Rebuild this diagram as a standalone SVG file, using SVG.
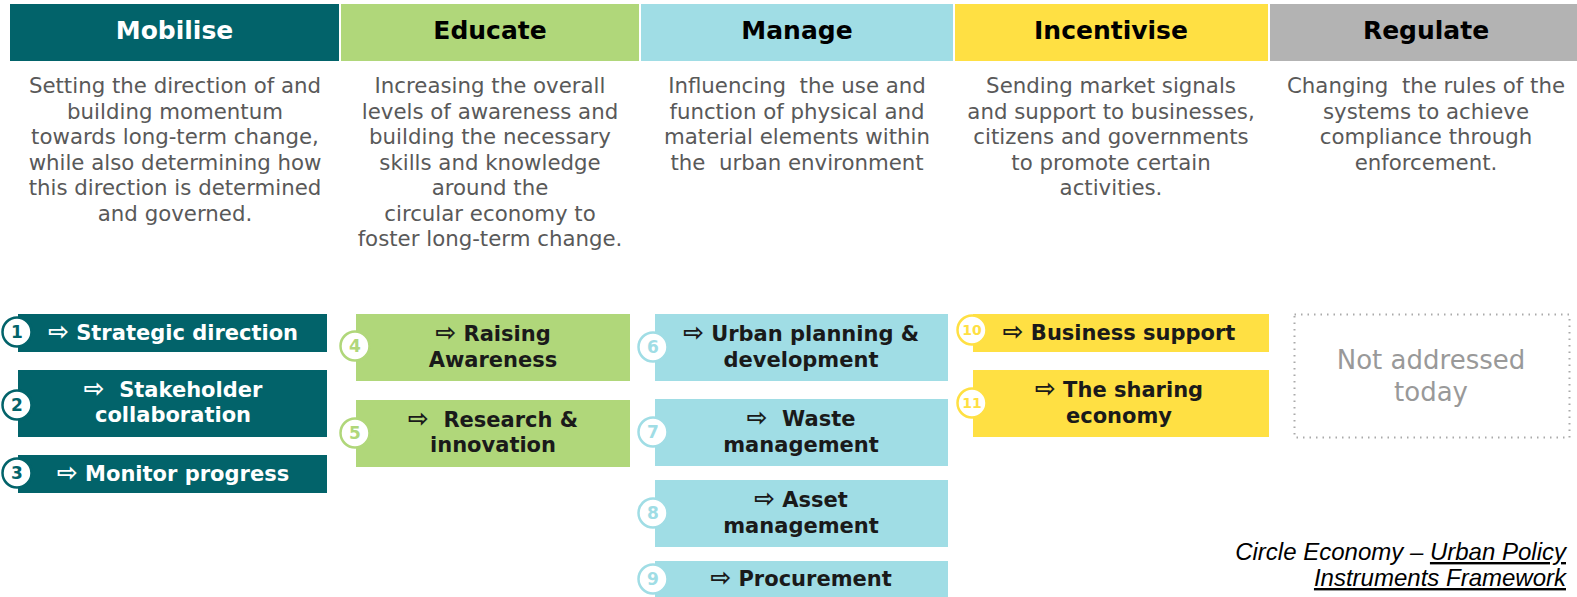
<svg xmlns="http://www.w3.org/2000/svg" width="1577" height="597" viewBox="0 0 1577 597">
<style>
.hd{font-family:"DejaVu Sans",Verdana,sans-serif;font-weight:bold;font-size:25px;text-anchor:middle}
.ds{font-family:"DejaVu Sans",sans-serif;font-size:21.3px;fill:#595959;text-anchor:middle}
.lb{font-family:"DejaVu Sans",Verdana,sans-serif;font-weight:bold;font-size:21px;fill:#1a1a1a;text-anchor:middle}
.lbw{fill:#ffffff}
.ar{font-size:25px}
.num{font-family:"DejaVu Sans",Verdana,sans-serif;font-weight:bold;font-size:17px;text-anchor:middle}
.c1{fill:#ffffff;stroke:#02636a;stroke-width:2.5}
.c2{fill:#ffffff;stroke:#b0d77a;stroke-width:2.5}
.c3{fill:#ffffff;stroke:#a0dde5;stroke-width:2.5}
.c4{fill:#ffffff;stroke:#ffe043;stroke-width:2.5}
.mob{fill:#02636a}.edu{fill:#b0d77a}.man{fill:#a0dde5}.inc{fill:#ffe043}.reg{fill:#b3b3b3}
.cit{font-family:"Liberation Sans Narrow","Liberation Sans",Arial,sans-serif;font-style:italic;font-size:24px;fill:#000;text-anchor:end}
</style>

<g id="headers">
<rect class="mob" x="10" y="4" width="329" height="57"/>
<text class="hd" x="174.5" y="39" fill="#ffffff">Mobilise</text>
<rect class="edu" x="341" y="4" width="298" height="57"/>
<text class="hd" x="490" y="39" fill="#000">Educate</text>
<rect class="man" x="641" y="4" width="312" height="57"/>
<text class="hd" x="797" y="39" fill="#000">Manage</text>
<rect class="inc" x="955" y="4" width="313" height="57"/>
<text class="hd" x="1111" y="39" fill="#000">Incentivise</text>
<rect class="reg" x="1270" y="4" width="307" height="57"/>
<text class="hd" x="1426" y="39" fill="#000">Regulate</text>
</g>

<g id="descriptions">
<text class="ds" x="175" y="93">Setting the direction of and</text>
<text class="ds" x="175" y="118.5">building momentum</text>
<text class="ds" x="175" y="144">towards long-term change,</text>
<text class="ds" x="175" y="169.5">while also determining how</text>
<text class="ds" x="175" y="195">this direction is determined</text>
<text class="ds" x="175" y="220.5">and governed.</text>

<text class="ds" x="490" y="93">Increasing the overall</text>
<text class="ds" x="490" y="118.5">levels of awareness and</text>
<text class="ds" x="490" y="144">building the necessary</text>
<text class="ds" x="490" y="169.5">skills and knowledge</text>
<text class="ds" x="490" y="195">around the</text>
<text class="ds" x="490" y="220.5">circular economy to</text>
<text class="ds" x="490" y="246">foster long-term change.</text>

<text class="ds" x="797" y="93" xml:space="preserve">Influencing  the use and</text>
<text class="ds" x="797" y="118.5">function of physical and</text>
<text class="ds" x="797" y="144">material elements within</text>
<text class="ds" x="797" y="169.5" xml:space="preserve">the  urban environment</text>

<text class="ds" x="1111" y="93">Sending market signals</text>
<text class="ds" x="1111" y="118.5">and support to businesses,</text>
<text class="ds" x="1111" y="144">citizens and governments</text>
<text class="ds" x="1111" y="169.5">to promote certain</text>
<text class="ds" x="1111" y="195">activities.</text>

<text class="ds" x="1426" y="93" xml:space="preserve">Changing  the rules of the</text>
<text class="ds" x="1426" y="118.5">systems to achieve</text>
<text class="ds" x="1426" y="144">compliance through</text>
<text class="ds" x="1426" y="169.5">enforcement.</text>
</g>

<g id="n1">
<rect class="mob" x="18" y="314" width="309" height="38"/>
<text class="lb lbw" x="173" y="340"><tspan class="ar">⇨</tspan> Strategic direction</text>
<circle class="c1" cx="17" cy="332" r="14.5"/>
<text class="num" x="17" y="338" fill="#02636a">1</text>
</g>
<g id="n2">
<rect class="mob" x="18" y="370" width="309" height="67"/>
<text class="lb lbw" x="173" y="397" xml:space="preserve"><tspan class="ar">⇨</tspan>  Stakeholder</text>
<text class="lb lbw" x="173" y="422">collaboration</text>
<circle class="c1" cx="17" cy="405" r="14.5"/>
<text class="num" x="17" y="411" fill="#02636a">2</text>
</g>
<g id="n3">
<rect class="mob" x="18" y="455" width="309" height="38"/>
<text class="lb lbw" x="173" y="481"><tspan class="ar">⇨</tspan> Monitor progress</text>
<circle class="c1" cx="17" cy="473" r="14.5"/>
<text class="num" x="17" y="479" fill="#02636a">3</text>
</g>

<g id="n4">
<rect class="edu" x="356" y="314" width="274" height="67"/>
<text class="lb" x="493" y="341"><tspan class="ar">⇨</tspan> Raising</text>
<text class="lb" x="493" y="367">Awareness</text>
<circle class="c2" cx="355" cy="346" r="14.5"/>
<text class="num" x="355" y="352" fill="#b0d77a">4</text>
</g>
<g id="n5">
<rect class="edu" x="356" y="400" width="274" height="67"/>
<text class="lb" x="493" y="427" xml:space="preserve"><tspan class="ar">⇨</tspan>  Research &amp;</text>
<text class="lb" x="493" y="452">innovation</text>
<circle class="c2" cx="355" cy="433" r="14.5"/>
<text class="num" x="355" y="439" fill="#b0d77a">5</text>
</g>

<g id="n6">
<rect class="man" x="655" y="314" width="293" height="67"/>
<text class="lb" x="801" y="341"><tspan class="ar">⇨</tspan> Urban planning &amp;</text>
<text class="lb" x="801" y="367">development</text>
<circle class="c3" cx="653" cy="347" r="14.5"/>
<text class="num" x="653" y="353" fill="#a0dde5">6</text>
</g>
<g id="n7">
<rect class="man" x="655" y="399" width="293" height="67"/>
<text class="lb" x="801" y="426" xml:space="preserve"><tspan class="ar">⇨</tspan>  Waste</text>
<text class="lb" x="801" y="452">management</text>
<circle class="c3" cx="653" cy="432" r="14.5"/>
<text class="num" x="653" y="438" fill="#a0dde5">7</text>
</g>
<g id="n8">
<rect class="man" x="655" y="480" width="293" height="67"/>
<text class="lb" x="801" y="507"><tspan class="ar">⇨</tspan> Asset</text>
<text class="lb" x="801" y="533">management</text>
<circle class="c3" cx="653" cy="513" r="14.5"/>
<text class="num" x="653" y="519" fill="#a0dde5">8</text>
</g>
<g id="n9">
<rect class="man" x="655" y="561" width="293" height="40"/>
<text class="lb" x="801" y="586"><tspan class="ar">⇨</tspan> Procurement</text>
<circle class="c3" cx="653" cy="579" r="14.5"/>
<text class="num" x="653" y="585" fill="#a0dde5">9</text>
</g>

<g id="n10">
<rect class="inc" x="973" y="314" width="296" height="38"/>
<text class="lb" x="1119" y="340"><tspan class="ar">⇨</tspan> Business support</text>
<circle class="c4" cx="972" cy="330" r="14.5"/>
<text class="num" x="972" y="335" fill="#ffe043" style="font-size:14px">10</text>
</g>
<g id="n11">
<rect class="inc" x="973" y="370" width="296" height="67"/>
<text class="lb" x="1119" y="397"><tspan class="ar">⇨</tspan> The sharing</text>
<text class="lb" x="1119" y="423">economy</text>
<circle class="c4" cx="972" cy="403" r="14.5"/>
<text class="num" x="972" y="408" fill="#ffe043" style="font-size:14px">11</text>
</g>

<g id="regulate-empty">
<rect x="1294.5" y="314.5" width="275" height="123" fill="none" stroke="#aaaaaa" stroke-width="2" stroke-dasharray="1.5 5"/>
<text x="1431" y="369" font-family="DejaVu Sans, sans-serif" font-size="26" fill="#999999" text-anchor="middle">Not addressed</text>
<text x="1431" y="401" font-family="DejaVu Sans, sans-serif" font-size="26" fill="#999999" text-anchor="middle">today</text>
</g>

<g id="connectors"></g>

<g id="citation">
<text class="cit" x="1566" y="560">Circle Economy – <tspan text-decoration="underline">Urban Policy</tspan></text>
<text class="cit" x="1566" y="586" text-decoration="underline">Instruments Framework</text>
</g>
</svg>
